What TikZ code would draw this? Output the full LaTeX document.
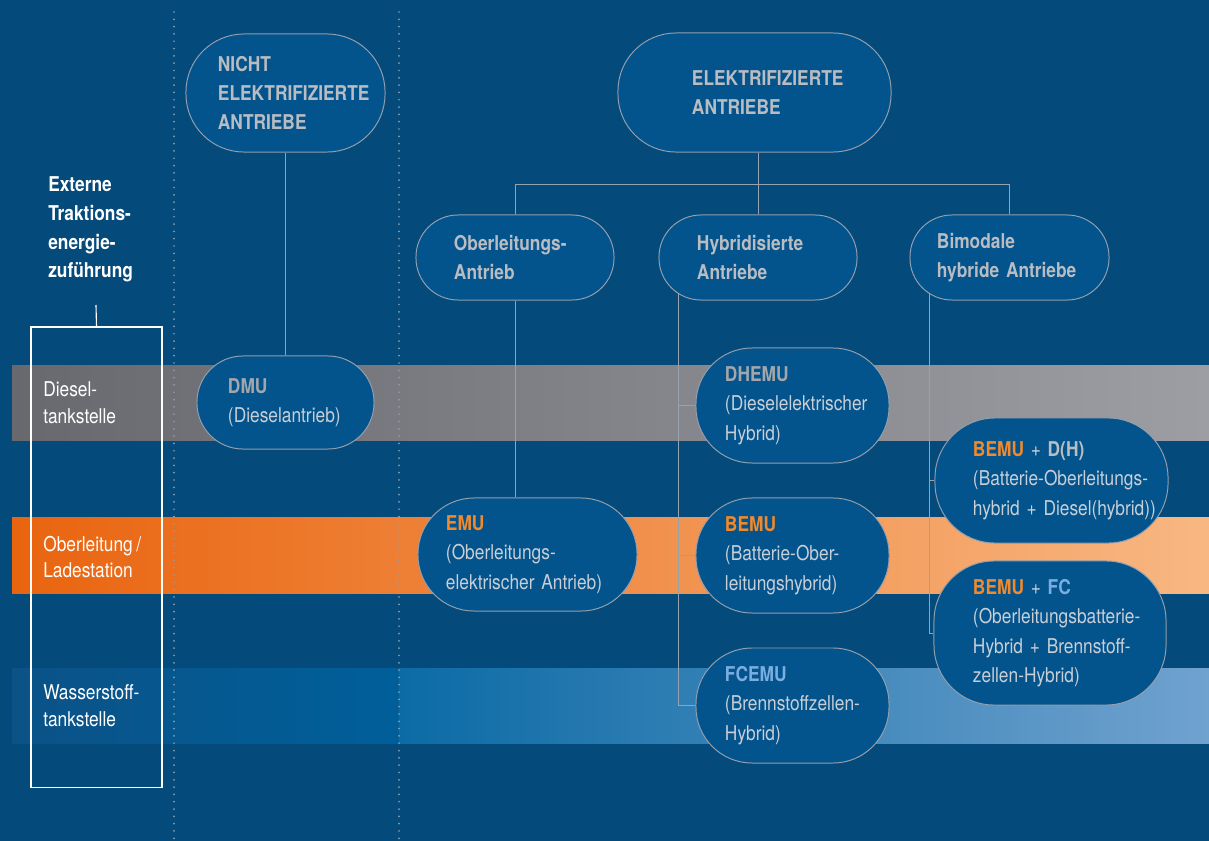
\documentclass[tikz,border=0pt]{standalone}
\usepackage{fontspec}
\setmainfont{TeX Gyre Heros}[FakeStretch=0.85]
\usepackage{tikz}

\definecolor{bgblue}{HTML}{044A7B}
\definecolor{pillfill}{HTML}{03538D}
\definecolor{pillline}{HTML}{939FAC}
\definecolor{linkgrey}{HTML}{96A2AE}
\definecolor{headgrey}{HTML}{B9BDC2}
\definecolor{bodygrey}{HTML}{C9CFD6}
\definecolor{dmugrey}{HTML}{A3A7AC}
\definecolor{hlorange}{HTML}{F08A2C}
\definecolor{hlblue}{HTML}{7AAEE0}
\definecolor{dotgrey}{HTML}{8C9BAA}

% tighter word spaces for the condensed face
\newcommand{\diagfont}{\fontsize{14.5}{21}\selectfont\spaceskip=0.2em plus 0.05em minus 0.05em\relax}

\begin{document}
\begin{tikzpicture}[x=0.025cm, y=-0.025cm, font=\diagfont,
    pill/.style={draw=pillline, line width=0.7pt, fill=pillfill, rounded corners=#1,
        align=left, inner sep=0pt, text=bodygrey},
    head/.style={text=headgrey, font=\diagfont\fontsize{14.5}{20.5}\selectfont\bfseries},
    link/.style={draw=linkgrey, line width=0.7pt},
    side/.style={anchor=west, align=left, inner sep=0pt, text=white, font=\diagfont\fontsize{14.5}{19}\selectfont},
    divider/.style={dotgrey, line width=1.4pt, line cap=round, dash pattern=on 0pt off 5.2pt}]

    % background and energy bands
    \useasboundingbox (0,0) rectangle (1209,841);
    \fill[bgblue] (0,0) rectangle (1209,841);
    \shade[left color={rgb,255:red,104;green,105;blue,110}, right color={rgb,255:red,157;green,158;blue,163}] (12,365) rectangle (1209,440);
    \shade[left color={rgb,255:red,233;green,100;blue,15}, right color={rgb,255:red,248;green,183;blue,130}] (12,517) rectangle (1209,593);
    \shade[left color={rgb,255:red,11;green,82;blue,135}, right color={rgb,255:red,0;green,95;blue,154}] (12,668) rectangle (399,743);
    \shade[left color={rgb,255:red,12;green,107;blue,165}, right color={rgb,255:red,112;green,162;blue,207}] (399,668) rectangle (1209,743);

    % column dividers
    \draw[divider] (174,12) -- (174,841);
    \draw[divider] (399,12) -- (399,841);

    % supply column
    \node[draw=white, line width=0.8pt, minimum width=3.275cm, minimum height=11.5cm, inner sep=0pt] (extbox) at (96.5,557) {};
    \node[anchor=west, align=left, inner sep=0pt, text=white, font=\diagfont\fontsize{14.5}{20.5}\selectfont\bfseries] (exttitle) at (48,229.5)
        {Externe\\Traktions-\\energie-\\zuführung};
    \coordinate (exttick) at (96,305);
    \draw[white, line width=0.8pt] (exttick) -- (extbox.north);

    \node[side] (diesel) at (43,402.5) {Diesel-\\tankstelle};
    \node[side] (catenary) at (43,557) {Oberleitung\,/\\Ladestation};
    \node[side] (hydrogen) at (43,706) {Wasserstoff-\\tankstelle};

    % top level
    \node[pill=1.45cm, head, minimum width=4.975cm, minimum height=2.95cm, text width=3.375cm] (nicht) at (285.5,93)
        {NICHT\\ELEKTRIFIZIERTE\\ANTRIEBE};
    \node[pill=1.45cm, head, minimum width=6.825cm, minimum height=2.975cm, text width=3.125cm] (elek) at (754.5,92.5)
        {ELEKTRIFIZIERTE\\ANTRIEBE};

    % second level
    \node[pill=1.05cm, head, minimum width=4.95cm, minimum height=2.125cm, text width=3.05cm] (ober) at (515,257.5)
        {Oberleitungs-\\Antrieb};
    \node[pill=1.05cm, head, minimum width=4.95cm, minimum height=2.125cm, text width=3.05cm] (hybr) at (758,257.5)
        {Hybridisierte\\Antriebe};
    \node[pill=1.05cm, head, minimum width=4.975cm, minimum height=2.125cm, text width=3.625cm] (bimo) at (1009.5,257.5)
        {Bimodale\\\mbox{hybride Antriebe}};

    % vehicles
    \node[pill=1.15cm, minimum width=4.425cm, minimum height=2.325cm, text width=2.875cm] (dmu) at (285.5,402.5)
        {\textcolor{dmugrey}{\bfseries DMU}\\(Dieselantrieb)};
    \node[pill=1.4cm, minimum width=5.475cm, minimum height=2.825cm, text width=4.075cm] (emu) at (527.5,554.5)
        {\textcolor{hlorange}{\bfseries EMU}\\(Oberleitungs-\\\mbox{elektrischer Antrieb)}};
    \node[pill=1.4cm, minimum width=4.825cm, minimum height=2.875cm, text width=3.375cm] (dhemu) at (792.5,405.5)
        {\textcolor{dmugrey}{\bfseries DHEMU}\\(Dieselelektrischer\\Hybrid)};
    \node[pill=1.4cm, minimum width=4.825cm, minimum height=2.875cm, text width=3.375cm] (bemu) at (792.5,555.5)
        {\textcolor{hlorange}{\bfseries BEMU}\\(Batterie-Ober-\\leitungshybrid)};
    \node[pill=1.4cm, minimum width=4.825cm, minimum height=2.875cm, text width=3.375cm] (fcemu) at (792.5,705.5)
        {\textcolor{hlblue}{\bfseries FCEMU}\\(Brennstoffzellen-\\Hybrid)};
    \node[pill=1.5cm, minimum width=5.825cm, minimum height=3.125cm, text width=3.925cm] (bemudh) at (1051.5,480.5)
        {\mbox{\textcolor{hlorange}{\bfseries BEMU} + \textcolor{headgrey}{\bfseries D(H)}}\\\mbox{(Batterie-Oberleitungs-}\\\mbox{hybrid + Diesel(hybrid))}};
    \node[pill=1.5cm, minimum width=5.8cm, minimum height=3.6cm, text width=3.85cm] (bemufc) at (1050,633)
        {\mbox{\textcolor{hlorange}{\bfseries BEMU} + \textcolor{hlblue}{\bfseries FC}}\\\mbox{(Oberleitungsbatterie-}\\\mbox{Hybrid + Brennstoff-}\\zellen-Hybrid)};

    % tree lines
    \draw[link] (nicht.south) -- (dmu.north);
    \coordinate (fork) at (758,184);
    \draw[link] (fork |- elek.south) -- (fork);
    \draw[link] (fork) -| (ober.north);
    \draw[link] (fork) -- (hybr.north);
    \draw[link] (fork) -| (bimo.north);
    \draw[link] (ober.south) -- (ober.south |- emu.north);

    \coordinate (hybtrunk) at (678,293);
    \draw[link] (hybtrunk) |- (fcemu.west);
    \draw[link] (hybtrunk |- dhemu.west) -- (dhemu.west);
    \draw[link] (hybtrunk |- bemu.west) -- (bemu.west);

    \coordinate (bimtrunk) at (929,293);
    \draw[link] (bimtrunk) |- (bemufc.west);
    \draw[link] (bimtrunk |- bemudh.west) -- (bemudh.west);
\end{tikzpicture}
\end{document}
